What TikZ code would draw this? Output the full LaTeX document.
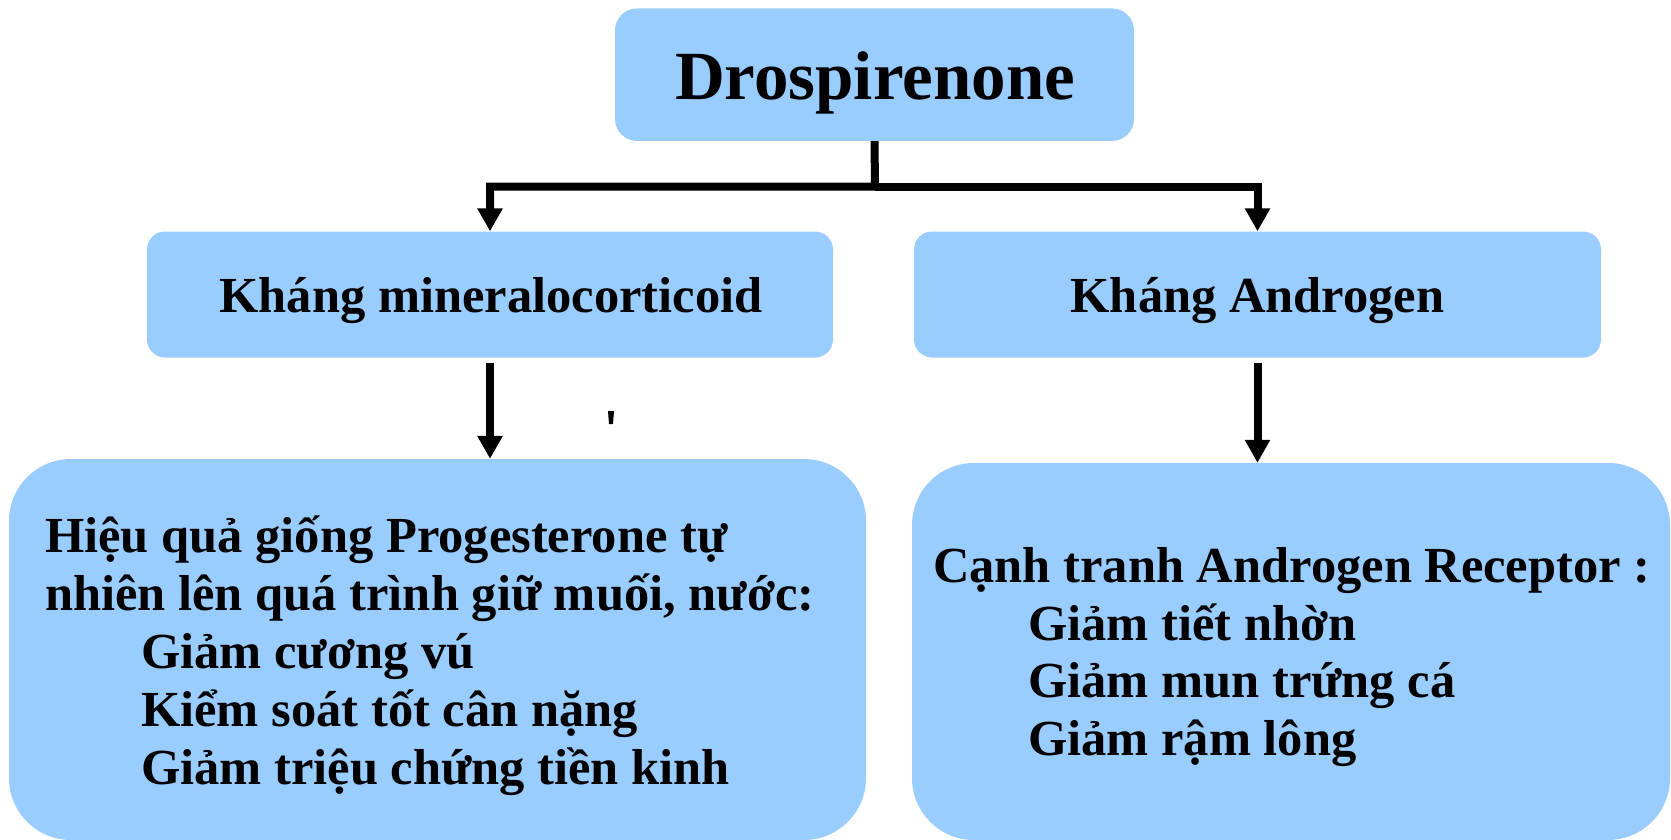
\documentclass[tikz,border=0pt]{standalone}
\usepackage{fontspec}
\setmainfont{Liberation Serif}
\usetikzlibrary{arrows.meta}
\definecolor{boxblue}{RGB}{153,204,255}
\begin{document}
\begin{tikzpicture}[x=1pt,y=-1pt,
  box/.style={fill=boxblue,draw=none,inner sep=0pt,rectangle},
  txt/.style={inner sep=0pt,font=\bfseries\fontsize{50.5}{58}\selectfont},
  ttl/.style={inner sep=0pt,font=\bfseries\fontsize{69}{80}\selectfont},
  arr/.style={line width=8pt,line join=miter,-{Triangle[width=24pt,length=23pt]}}]
\useasboundingbox (0,0) rectangle (1671,840);
% boxes
\node[box,minimum width=519pt,minimum height=132.5pt,rounded corners=22pt] (title) at (874.5,74.7) {};
\node[box,minimum width=686pt,minimum height=126pt,rounded corners=18pt] (mL) at (490,294.5) {};
\node[box,minimum width=687pt,minimum height=126pt,rounded corners=18pt] (mR) at (1257.5,294.5) {};
\node[box,minimum width=857pt,minimum height=381pt,rounded corners=62pt] (bL) at (437.5,649.5) {};
\node[box,minimum width=758pt,minimum height=377pt,rounded corners=62pt] (bR) at (1291,651.5) {};
% texts
\node[ttl,anchor=base] (tT) at (875,100) {Drospirenone};
\node[txt,anchor=base] (tL) at (491,312) {Kháng mineralocorticoid};
\node[txt,anchor=base] (tR) at (1257.5,312) {Kháng Androgen};
\node[txt,anchor=base west] (bL1) at (45,552) {Hiệu quả giống Progesterone tự};
\node[txt,anchor=base west] (bL2) at (45,610) {nhiên lên quá trình giữ muối, nước:};
\node[txt,anchor=base west] (bL3) at (141,668) {Giảm cương vú};
\node[txt,anchor=base west] (bL4) at (141,726) {Kiểm soát tốt cân nặng};
\node[txt,anchor=base west] (bL5) at (141,784) {Giảm triệu chứng tiền kinh};
\node[txt,anchor=base west] (bR1) at (933,582) {Cạnh tranh Androgen Receptor :};
\node[txt,anchor=base west] (bR2) at (1028,640) {Giảm tiết nhờn};
\node[txt,anchor=base west] (bR3) at (1028,697) {Giảm mun trứng cá};
\node[txt,anchor=base west] (bR4) at (1028,755) {Giảm rậm lông};
% connectors
\coordinate (j) at (875,186.5);
\draw[arr] (title.south) -- (j) -| (mL.north);
\draw[arr] (j) -| (mR.north);
\draw[arr,shorten <=5pt] (mL.south) -- (mL.south |- bL.north);
\draw[arr,shorten <=5pt] (mR.south) -- (mR.south |- bR.north);
% stray mark
\fill (608,411) -- (614,411) -- (613,424) -- (609,424) -- cycle;
\end{tikzpicture}
\end{document}
